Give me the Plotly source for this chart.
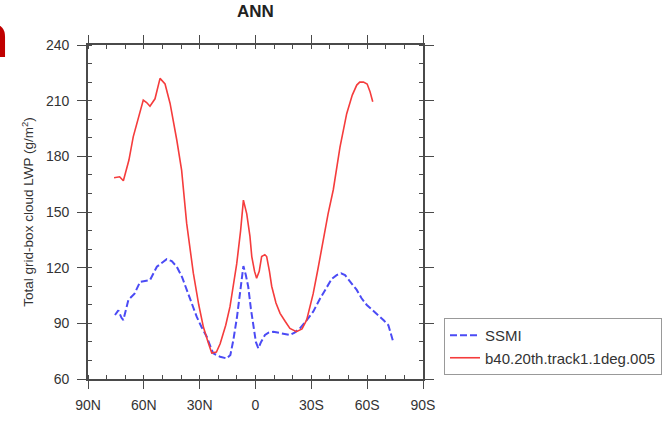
import plotly.graph_objects as go

# ---- data (latitude: + = N, - = S) ----
model_lat = [76, 73, 71, 68, 65.7, 63, 60.3, 58.5, 56.7, 54, 51.3, 48.6, 45.9, 42.3, 39.7,
             37, 33.4, 30.5, 28, 25.5, 23.5, 21, 19, 16, 13.7, 10.1, 8, 6.5, 4.7, 3, 2, 0.5,
             -0.6, -2, -3.3, -5, -6, -7.5, -8.7, -11, -13.2, -16, -18.5, -22, -25, -27.5,
             -31, -33.5, -36.4, -39, -41.8, -45.4, -49, -52, -54.4, -56, -58, -60, -61.5, -63]
model_lwp = [168.5, 169, 166.8, 178, 190.5, 200, 210.3, 209, 207, 211, 222, 219, 208.5, 188.8, 172.6,
             144, 117, 100, 88, 80, 74, 74.5, 79, 89, 99, 122, 140, 156.4, 149, 137, 126, 118,
             114.3, 118, 126, 127, 126, 118, 110, 101, 95.4, 91, 87.3, 85.5, 87, 91.8,
             106, 119, 135, 149, 162, 185, 203, 213, 218.4, 220, 220, 219, 215, 209.4]

ssmi_lat = [75.5, 73.7, 72, 71, 68.3, 65, 62, 59, 56.7, 53, 50, 47.7, 45, 42.3, 39.5, 37, 34,
            31.6, 29, 26.2, 24, 22.7, 19, 15.5, 13.5, 11.9, 10, 8.3, 6.5, 5.2, 3.9, 2.5, 1.2,
            -0.2, -1.5, -3, -5.1, -7, -9.6, -12, -14, -16, -18.5, -21, -23.9, -27, -31, -34.5,
            -38.3, -41, -43.6, -46, -48.1, -51, -54.4, -57, -59.8, -63, -66.9, -69, -71.4, -72.5, -74]
ssmi_lwp = [94.5, 97, 93, 91.8, 102.6, 106, 112.4, 113, 113.3, 120.5, 123, 124.6, 123.5, 120.5, 115, 108, 100,
            93.6, 88, 82.8, 77, 73.8, 72, 71.1, 73, 81, 93, 108, 120.9, 116, 109.7, 98, 88.2,
            80, 76.5, 80, 83.7, 85, 85.5, 85, 84.6, 84, 83.7, 85, 87.3, 91, 96.3, 103,
            109.7, 114, 116, 117, 116, 112.5, 108, 103.5, 99.9, 97, 93.6, 91.5, 89, 85, 80]

x_tickvals = [90, 60, 30, 0, -30, -60, -90]
x_ticktext = ["90N", "60N", "30N", "0", "30S", "60S", "90S"]
y_tickvals = [60, 90, 120, 150, 180, 210, 240]

FONT = "Liberation Sans, Arial, Helvetica, sans-serif"
AXC = "#4a4a4a"

fig = go.Figure()
fig.add_trace(go.Scatter(x=ssmi_lat, y=ssmi_lwp, mode="lines", name="SSMI",
                         line=dict(color="#4b4bf5", width=2, dash="7px,3px")))
fig.add_trace(go.Scatter(x=model_lat, y=model_lwp, mode="lines", name="b40.20th.track1.1deg.005",
                         line=dict(color="#f53c3c", width=1.6)))

common = dict(showline=True, linecolor=AXC, linewidth=1.6, showgrid=False, zeroline=False,
              tickcolor=AXC, tickwidth=1.4, mirror="ticks", automargin=False)

fig.update_layout(
    width=664, height=422,
    margin=dict(l=88, r=241, t=45, b=43),
    paper_bgcolor="white", plot_bgcolor="white",
    font=dict(family=FONT, size=14, color="#333333"),
    showlegend=True,
    legend=dict(xref="container", yref="container",
                x=444 / 664, y=1 - 318 / 422, xanchor="left", yanchor="top",
                bordercolor="#999999", borderwidth=1, bgcolor="white",
                font=dict(size=15, color="#333333"), tracegroupgap=0),
    xaxis=dict(range=[90, -90], tickmode="array", tickvals=x_tickvals, ticktext=x_ticktext,
               ticks="outside", ticklen=8, ticklabelstandoff=4,
               minor=dict(tickmode="linear", tick0=0, dtick=10, ticks="inside", ticklen=4,
                          tickcolor=AXC, tickwidth=1.2),
               **common),
    yaxis=dict(range=[60, 240], tickmode="array", tickvals=y_tickvals,
               ticks="outside", ticklen=9, ticklabelstandoff=5,
               minor=dict(tickmode="linear", tick0=60, dtick=10, ticks="inside", ticklen=4,
                          tickcolor=AXC, tickwidth=1.2),
               title=dict(text="Total grid-box cloud LWP (g/m<sup>2</sup>)",
                          font=dict(size=13.5, color="#333333"), standoff=9),
               **common),
    xaxis2=dict(overlaying="x", range=[90, -90], tickmode="array", tickvals=x_tickvals,
                ticks="inside", ticklen=8, showticklabels=False, **common),
    yaxis2=dict(overlaying="y", range=[60, 240], tickmode="array", tickvals=y_tickvals,
                ticks="inside", ticklen=8, showticklabels=False, **common),
)

fig.add_annotation(text="<b>ANN</b>", xref="paper", yref="paper",
                   x=0.5, y=(379 - 12) / 334, xanchor="center", yanchor="middle",
                   showarrow=False, font=dict(size=17, color="#222222", family=FONT))
fig.add_annotation(text="<b>n</b>", xref="paper", yref="paper",
                   x=(11 - 88) / 335, y=(379 - 71.5) / 334, xanchor="right", yanchor="bottom",
                   showarrow=False, font=dict(size=62, color="#c00000", family=FONT))

fig.write_html("out.html", config={"displayModeBar": False},
               post_script="document.body.style.margin='0';")
